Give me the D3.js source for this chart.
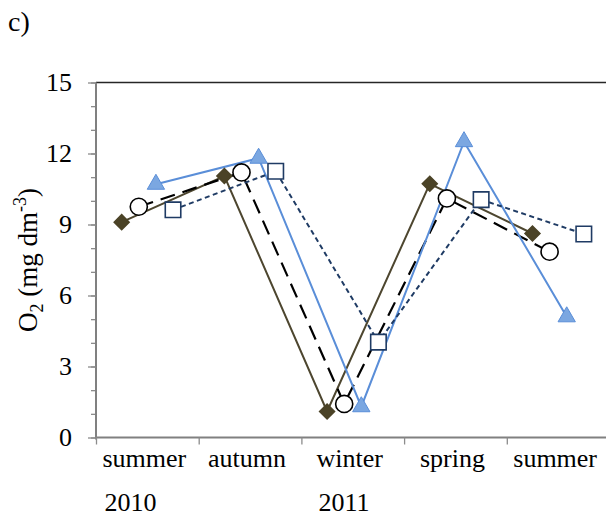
<!DOCTYPE html>
<html>
<head>
<meta charset="utf-8">
<script src="https://cdn.jsdelivr.net/npm/d3@7"></script>
<style>
  body { margin: 0; background: #fff; overflow: hidden; }
  svg { display: block; }
  svg text { fill: #000; }
</style>
</head>
<body>
<div id="chart"></div>
<script>
var width = 606
var height = 520
const serif = "Liberation Serif"

// data
const seasons = ["summer", "autumn", "winter", "spring", "summer "]
const years = [{ at: 0, label: "2010" }, { at: 2, label: "2011" }]
const seriesNames = ["s1", "s2", "s3", "s4"]
const diamondValues = [9.1, 11.05, 1.1, 10.72, 8.62]
const circleValues = [9.75, 11.2, 1.42, 10.1, 7.85]
const triangleValues = [10.7, 11.8, 1.3, 12.5, 5.1]
const squareValues = [9.62, 11.25, 4.03, 10.05, 8.6]
const yMajorTicks = [0, 3, 6, 9, 12, 15]
const yMinorTicks = d3.range(0, 16)

const margin = { top: 82.5, right: -3.5, bottom: 82.5, left: 96 }

const svg = d3.select("#chart").append("svg")
    .attr("width", width)
    .attr("height", height)
    .attr("font-family", serif)

// scales in page coordinates
const xScale = d3.scaleBand()
    .domain(d3.range(seasons.length))
    .range([margin.left, width - margin.right])

const xInner = d3.scalePoint()
    .domain(seriesNames)
    .range([xScale.bandwidth() * 0.25, xScale.bandwidth() * 0.75])

const xEdges = d3.scaleLinear()
    .domain([0, seasons.length])
    .range([margin.left, width - margin.right])

const yScale = d3.scaleLinear()
    .domain([0, 15])
    .range([height - margin.bottom, margin.top])

const x0 = margin.left, x1 = width - margin.right
const yBottom = yScale(0), yTop = yScale(15)

// top border
svg.append("line")
    .attr("x1", x0).attr("x2", x1)
    .attr("y1", yTop).attr("y2", yTop)
    .attr("stroke", "#262626")
    .attr("stroke-width", 1.5)

// y axis: minor ticks, then major ticks (labels drawn separately)
const yMinor = svg.append("g").attr("transform", `translate(${x0},0)`).call(
    d3.axisLeft(yScale).tickValues(yMinorTicks).tickSize(5).tickFormat(""))
yMinor.selectAll("line").attr("stroke", "#8c8c8c").attr("stroke-width", 1.3)
yMinor.select(".domain").remove()

const yAxisG = svg.append("g").attr("transform", `translate(${x0},0)`).call(
    d3.axisLeft(yScale).tickValues(yMajorTicks).tickSize(8).tickFormat(""))
yAxisG.select(".domain").attr("stroke", "#808080").attr("stroke-width", 2)
    .attr("d", `M0,${yBottom + 2}V${yTop}`)
yAxisG.selectAll("line").attr("stroke", "#8c8c8c").attr("stroke-width", 1.3)

svg.selectAll(".y-label").data(yMajorTicks).enter().append("text")
    .attr("class", "y-label")
    .attr("x", x0 - 24)
    .attr("y", d => yScale(d))
    .attr("dy", "0.34em")
    .attr("text-anchor", "end")
    .attr("font-size", 26)
    .text(d => d)

// x axis: ticks on category edges
const xAxisG = svg.append("g")
    .attr("transform", `translate(0, ${yBottom})`)
    .call(d3.axisBottom(xEdges).tickValues(d3.range(seasons.length + 1)).tickSize(7).tickFormat(""))
xAxisG.select(".domain").attr("stroke", "#808080").attr("stroke-width", 2)
    .attr("d", `M${x0},0H${x1}`)
xAxisG.selectAll("line").attr("stroke", "#8c8c8c").attr("stroke-width", 1.3)

const catLabels = svg.selectAll(".cat-label").data(seasons).enter().append("text")
    .attr("class", "cat-label")
    .attr("x", (d, i) => xScale(i) + xScale.bandwidth() / 2 - 3)
    .attr("y", yBottom + 29)
    .attr("text-anchor", "middle")
    .attr("font-size", 26)
    .text(d => d.trim())

years.forEach(y => {
    const lab = catLabels.nodes()[y.at]
    const w = lab.getComputedTextLength()
    svg.append("text")
        .attr("x", +lab.getAttribute("x") - w / 2 + 2)
        .attr("y", yBottom + 73)
        .attr("font-size", 26)
        .text(y.label)
})

// y axis label
const yLabel = svg.append("text")
    .attr("transform", `translate(37, ${(yBottom + yTop) / 2}) rotate(-90)`)
    .attr("text-anchor", "middle")
    .attr("font-size", 27)
yLabel.append("tspan").text("O")
yLabel.append("tspan").attr("dy", 6).attr("font-size", 18).text("2")
yLabel.append("tspan").attr("dy", -6).text(" (mg dm")
yLabel.append("tspan").attr("dy", -11).attr("font-size", 18).text("-3")
yLabel.append("tspan").attr("dy", 11).text(")")

// panel letter
svg.append("text")
    .attr("x", 8)
    .attr("y", 31)
    .attr("font-size", 28)
    .text("c)")

// series
const series = [
    { key: "s1", values: diamondValues, line: "#4d462f", width: 2, dash: null, marker: "diamond", fill: "#4b4327", stroke: "#4b4327" },
    { key: "s2", values: circleValues, line: "#000", width: 2.2, dash: "15,8", marker: "circle", fill: "#fff", stroke: "#000" },
    { key: "s3", values: triangleValues, line: "#5a8ed8", width: 2, dash: null, marker: "triangle", fill: "#7ba7e1", stroke: "#5a8ed8" },
    { key: "s4", values: squareValues, line: "#1f3b64", width: 2, dash: "5,3.5", marker: "square", fill: "#fff", stroke: "#1f3b64" }
]

const px = (s, i) => xScale(i) + xInner(s.key)

const lineGen = s => d3.line()
    .x((d, i) => px(s, i))
    .y(d => yScale(d))

series.forEach(s => {
    svg.append("path")
        .attr("d", lineGen(s)(s.values))
        .attr("fill", "none")
        .attr("stroke", s.line)
        .attr("stroke-width", s.width)
        .attr("stroke-dasharray", s.dash)
})

const symbols = {
    diamond: d3.symbol().type(d3.symbolSquare).size(110),
    circle: d3.symbol().type(d3.symbolCircle).size(230),
    triangle: d3.symbol().type(d3.symbolTriangle).size(130),
    square: d3.symbol().type(d3.symbolSquare).size(240)
}

series.forEach(s => {
    svg.selectAll(".m-" + s.key).data(s.values).enter().append("path")
        .attr("class", "m-" + s.key)
        .attr("d", symbols[s.marker]())
        .attr("transform", (d, i) => `translate(${px(s, i)}, ${yScale(d)})` + (s.marker === "diamond" ? " rotate(45)" : ""))
        .attr("fill", s.fill)
        .attr("stroke", s.stroke)
        .attr("stroke-width", s.marker === "triangle" ? 1 : 1.6)
})
</script>
</body>
</html>
